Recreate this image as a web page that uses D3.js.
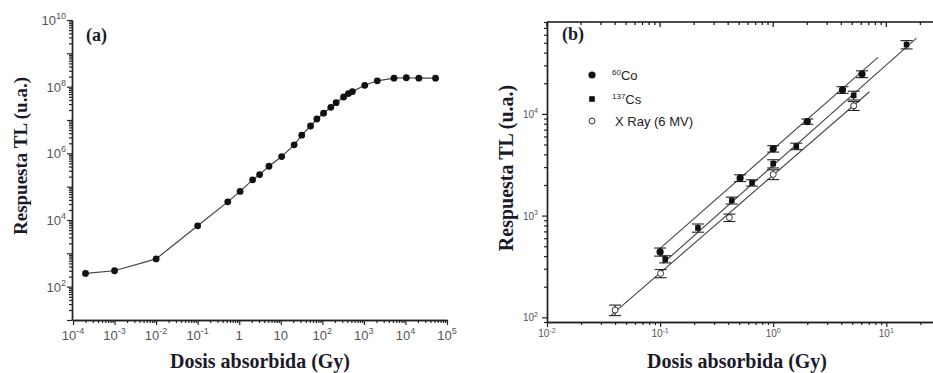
<!DOCTYPE html>
<html>
<head>
<meta charset="utf-8">
<script src="https://cdn.jsdelivr.net/npm/d3@7"></script>
<style>
  body { margin: 0; background: #fff; }
  svg { display: block; }
  .tick-lbl { font-family: "Liberation Sans", Arial, sans-serif; fill: #555; }
  .ax-title { font-family: "Liberation Serif", "Times New Roman", serif; font-weight: bold; fill: #1a1a2a; }
</style>
</head>
<body>
<div id="chart"></div>
<script>
// ---- data: panel (a) TL response over the whole dose range
let doseA = [2e-4, 1e-3, 0.01, 0.1, 0.53, 1.05, 2.1, 3.1, 5.2, 10.5, 21, 32, 52, 74, 107, 160, 215, 325, 425, 530, 1050, 2100, 5300, 10500, 21000, 53000];
let respA = [250, 300, 680, 6700, 3.5e4, 7.2e4, 1.6e5, 2.3e5, 4.1e5, 8e5, 1.8e6, 3.5e6, 6.6e6, 1.07e7, 1.6e7, 2.4e7, 3.3e7, 4.9e7, 6.2e7, 7.1e7, 1.1e8, 1.5e8, 1.8e8, 1.85e8, 1.8e8, 1.8e8];

// ---- data: panel (b) three beams
let doseCo = [0.1, 0.51, 1.0, 2.0, 4.1, 6.1];
let respCo = [440, 2340, 4540, 8400, 17200, 24600];
let errCo  = [40, 180, 330, 500, 1300, 1900];

let doseCs = [0.111, 0.216, 0.43, 0.65, 1.0, 1.6, 5.15, 15.1];
let respCs = [373, 757, 1410, 2100, 3240, 4800, 15200, 48000];
let errCs  = [30, 70, 110, 150, 300, 350, 1500, 4500];

let doseX = [0.04, 0.101, 0.41, 1.0, 5.15];
let respX = [118, 270, 955, 2540, 12000];
let errX  = [14, 25, 80, 280, 1200];

// fitted lines, end points
let fitCo = [[0.1, 476], [8.45, 35900]];
let fitCs = [[0.106, 340], [18.5, 55600]];
let fitX  = [[0.037, 105], [7.1, 16500]];

let legendNames = ["60|Co", "137|Cs", "|X Ray (6 MV)"];

// tick labels [value, base, exponent]
let xTicksA = [[1e-4, "10", "-4"], [1e-3, "10", "-3"], [1e-2, "10", "-2"], [1e-1, "10", "-1"], [1, "1", ""], [10, "10", ""], [1e2, "10", "2"], [1e3, "10", "3"], [1e4, "10", "4"], [1e5, "10", "5"]];
let yTicksA = [[1e2, "10", "2"], [1e4, "10", "4"], [1e6, "10", "6"], [1e8, "10", "8"], [1e10, "10", "10"]];
let xTicksB = [[0.01, "10", "-2"], [0.1, "10", "-1"], [1, "10", "0"], [10, "10", "1"]];
let yTicksB = [[100, "10", "2"], [1000, "10", "3"], [10000, "10", "4"]];

let svgWidth = 933;
let svgHeight = 373;

let svg = d3.select("#chart").append("svg")
  .attr("width", svgWidth)
  .attr("height", svgHeight);

// major / minor tick values for every decade of a log domain
function logTicks(lo, hi) {
  let major = [], minor = [];
  for (let e = Math.floor(Math.log10(lo)); e <= Math.ceil(Math.log10(hi)); e++) {
    for (let m = 1; m < 10; m++) {
      let v = m * Math.pow(10, e);
      if (v < lo * 0.999 || v > hi * 1.001) continue;
      (m === 1 ? major : minor).push(v);
    }
  }
  return { major, minor };
}

function supLabel(g, x, y, base, exp, size, anchor) {
  let t = g.append("text").attr("class", "tick-lbl")
    .attr("x", x).attr("y", y)
    .attr("text-anchor", anchor)
    .style("font-size", size + "px");
  t.append("tspan").text(base);
  if (exp) {
    t.append("tspan").attr("dy", -size * 0.45)
      .style("font-size", (size * 0.7) + "px").text(exp);
  }
  return t;
}

function drawAxis(g, scale, orient, pos, majorLen, minorLen) {
  let d = scale.domain();
  let lt = logTicks(d[0], d[1]);
  let mk = (len, vals) => {
    let ax = orient(scale).tickValues(vals).tickFormat("").tickSizeInner(len).tickSizeOuter(0);
    g.append("g").attr("transform", pos).call(ax)
      .call(s => s.selectAll("line").attr("stroke", "#222").attr("stroke-width", 1.2))
      .call(s => s.select(".domain").attr("stroke", "#222").attr("stroke-width", 1.4));
  };
  mk(majorLen, lt.major);
  mk(minorLen, lt.minor);
}

// ================= panel (a) =================
let xA = d3.scaleLog().domain([1e-4, 1e5]).range([73, 447]);
let yA = d3.scaleLog().domain([10, 1e10]).range([320, 20]);
let gA = svg.append("g");

drawAxis(gA, xA, d3.axisBottom, "translate(0,320)", 5, 3);
drawAxis(gA, yA, d3.axisLeft, "translate(72,0)", 5, 3);

xTicksA.forEach(t => supLabel(gA, xA(t[0]), 340, t[1], t[2], 13, "middle"));
yTicksA.forEach(t => supLabel(gA, 66, yA(t[0]) + 5, t[1], t[2], 13, "end"));

let lineA = d3.line().x((d, i) => xA(doseA[i])).y((d, i) => yA(respA[i]));
gA.append("path").datum(respA)
  .attr("d", lineA).attr("fill", "none")
  .attr("stroke", "#444").attr("stroke-width", 1.2);

gA.selectAll("circle.pa").data(respA).enter().append("circle")
  .attr("cx", (d, i) => xA(doseA[i]))
  .attr("cy", d => yA(d))
  .attr("r", 3.4).attr("fill", "#111");

gA.append("text").attr("class", "ax-title").attr("x", 86).attr("y", 41)
  .style("font-size", "18px").text("(a)");
gA.append("text").attr("class", "ax-title").attr("x", 260).attr("y", 368)
  .attr("text-anchor", "middle").style("font-size", "20px").text("Dosis absorbida (Gy)");
gA.append("text").attr("class", "ax-title")
  .attr("transform", "translate(27,156) rotate(-90)")
  .attr("text-anchor", "middle").style("font-size", "19px").text("Respuesta TL (u.a.)");

// ================= panel (b) =================
let xB = d3.scaleLog().domain([0.01, 30]).range([547, 547 + 113.1 * Math.log10(3000)]);
let yB = d3.scaleLog().domain([90, 80000]).range([322, 22]);
let gB = svg.append("g");

drawAxis(gB, xB, d3.axisBottom, "translate(0,322)", 5, 3);
drawAxis(gB, yB, d3.axisLeft, "translate(547,0)", 5, 3);

// top frame: mirrored axis, ticks pointing into the plot
let topAx = svg.append("g").attr("class", "top-frame");
topAx.append("path")
  .attr("d", `M547,${yB.range()[1]}H${svgWidth}`)
  .attr("stroke", "#111").attr("stroke-width", 1.6).attr("fill", "none");
let ltTop = logTicks(xB.domain()[0], xB.domain()[1]);
ltTop.major.concat(ltTop.minor).forEach((v, i) => {
  let len = i < ltTop.major.length ? 5 : 3;
  topAx.append("line")
    .attr("x1", xB(v)).attr("x2", xB(v))
    .attr("y1", yB.range()[1]).attr("y2", yB.range()[1] + len)
    .attr("stroke", "#111").attr("stroke-width", 1.2);
});

xTicksB.forEach(t => supLabel(gB, xB(t[0]), 337, t[1], t[2], 10, "middle"));
yTicksB.forEach(t => supLabel(gB, 538, yB(t[0]) + 4, t[1], t[2], 10, "end"));

let series = [
  { dose: doseCo, resp: respCo, err: errCo, fit: fitCo, kind: "co" },
  { dose: doseCs, resp: respCs, err: errCs, fit: fitCs, kind: "cs" },
  { dose: doseX,  resp: respX,  err: errX,  fit: fitX,  kind: "x" }
];

let fitLine = d3.line().x(d => xB(d[0])).y(d => yB(d[1]));

function drawMarker(g, kind, cx, cy) {
  if (kind === "co") {
    g.append("circle").attr("cx", cx).attr("cy", cy).attr("r", 3.6).attr("fill", "#111");
  } else if (kind === "cs") {
    g.append("rect").attr("x", cx - 2.8).attr("y", cy - 2.8).attr("width", 5.6).attr("height", 5.6).attr("fill", "#111");
  } else {
    g.append("circle").attr("cx", cx).attr("cy", cy).attr("r", 3).attr("fill", "#fff")
      .attr("stroke", "#333").attr("stroke-width", 1);
  }
}

series.forEach(s => {
  gB.append("path").datum(s.fit).attr("d", fitLine)
    .attr("fill", "none").attr("stroke", "#444").attr("stroke-width", 1.1);
});

series.forEach(s => {
  s.resp.forEach((r, i) => {
    let cx = xB(s.dose[i]);
    let y1 = yB(r + s.err[i]), y0 = yB(r - s.err[i]);
    let eg = gB.append("g").attr("stroke", "#222").attr("stroke-width", 1.1);
    eg.append("line").attr("x1", cx).attr("x2", cx).attr("y1", y1).attr("y2", y0);
    eg.append("line").attr("x1", cx - 6).attr("x2", cx + 6).attr("y1", y1).attr("y2", y1);
    eg.append("line").attr("x1", cx - 6).attr("x2", cx + 6).attr("y1", y0).attr("y2", y0);
    drawMarker(gB, s.kind, cx, yB(r));
  });
});

// legend
let legY = [75, 99, 121];
legendNames.forEach((name, i) => {
  drawMarker(gB, series[i].kind, 592, legY[i]);
  let parts = name.split("|");
  let t = gB.append("text").attr("class", "tick-lbl")
    .attr("x", parts[0] ? 612 : 615).attr("y", legY[i] + 4.5)
    .style("font-size", "13px").style("fill", "#222");
  if (parts[0]) {
    t.append("tspan").attr("dy", -5).style("font-size", "8px").text(parts[0]);
    t.append("tspan").attr("dy", 5).text(parts[1]);
  } else {
    t.append("tspan").text(parts[1]);
  }
});

gB.append("text").attr("class", "ax-title").attr("x", 562).attr("y", 40)
  .style("font-size", "18px").text("(b)");
gB.append("text").attr("class", "ax-title").attr("x", 737).attr("y", 368)
  .attr("text-anchor", "middle").style("font-size", "20px").text("Dosis absorbida (Gy)");
gB.append("text").attr("class", "ax-title")
  .attr("transform", "translate(513,168) rotate(-90)")
  .attr("text-anchor", "middle").style("font-size", "20px").text("Respuesta TL (u.a.)");
</script>
</body>
</html>
